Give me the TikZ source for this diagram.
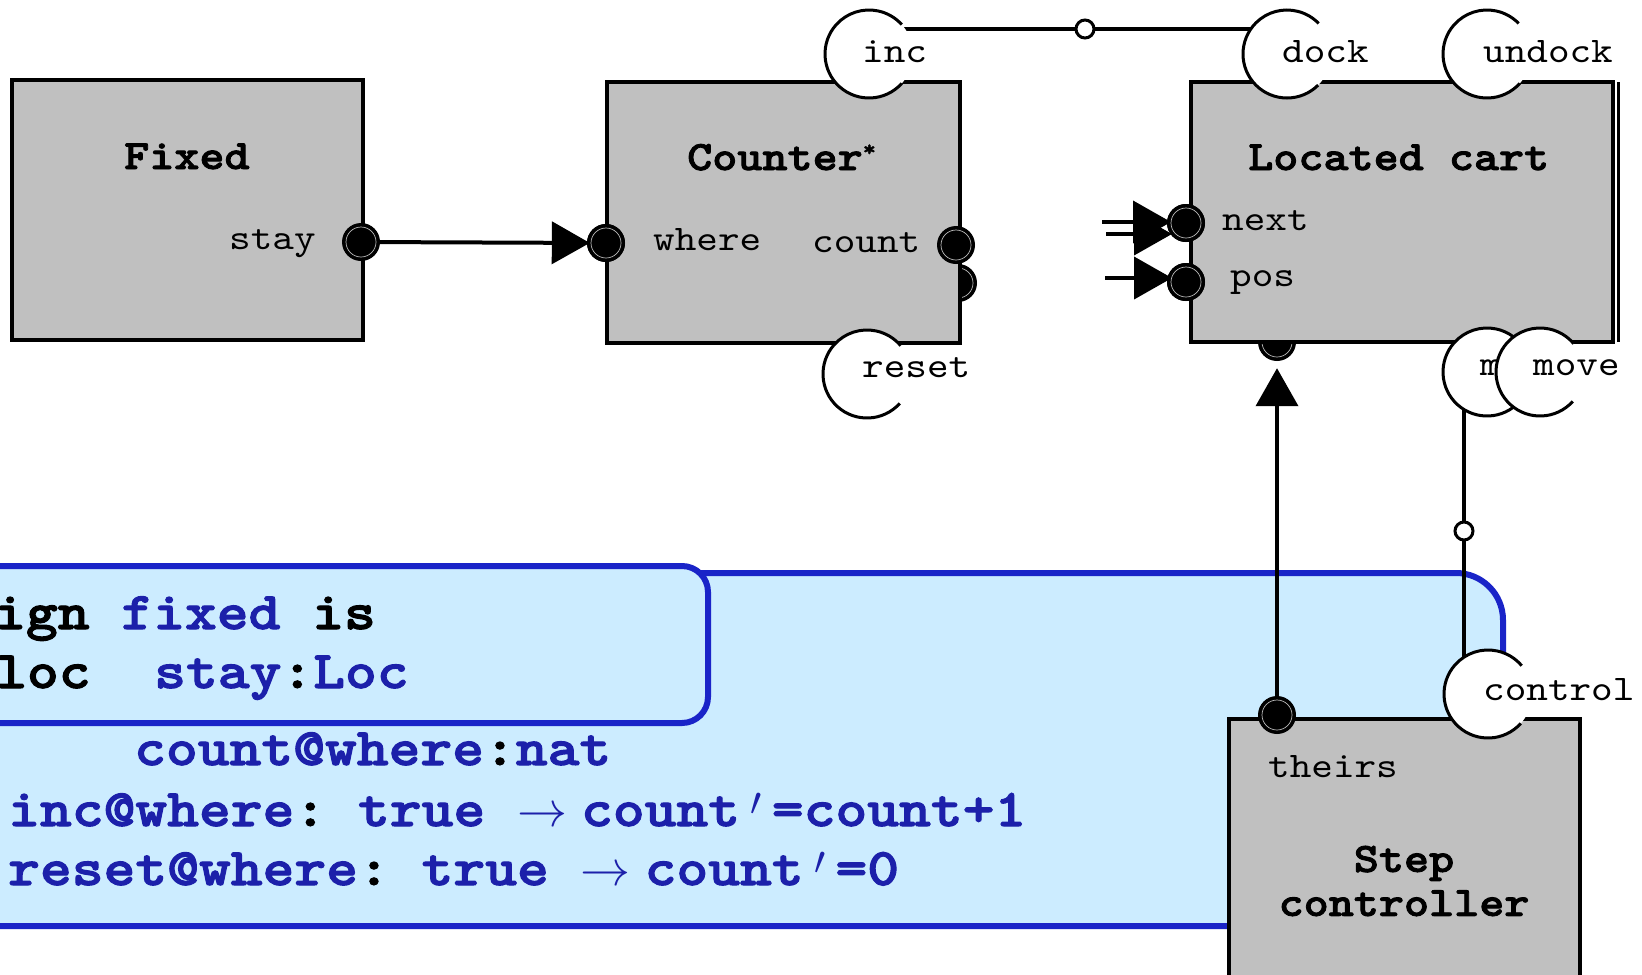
\documentclass[tikz,border=0pt]{standalone}
\usepackage{fontspec}
\usepackage{graphicx}
\newfontfamily\cour{lmmono10-regular}[Extension=.otf, BoldFont=lmmonolt10-bold, BoldFeatures={FakeBold=2}, FakeStretch=1.143, Ligatures=NoCommon]
\usetikzlibrary{arrows.meta}
\definecolor{boxgray}{RGB}{192,192,192}
\definecolor{bfill}{RGB}{204,236,255}
\definecolor{bline}{RGB}{26,36,200}
\definecolor{btext}{RGB}{28,32,170}
\newcommand{\rarr}{\scalebox{5}{\fontsize{10}{12}\selectfont$\rightarrow$}}
\newcommand{\prm}{\makebox[31.8pt][c]{\raisebox{11pt}{\scalebox{4}{\fontsize{10}{12}\selectfont$\prime$}}}}
\begin{document}
\begin{tikzpicture}[x=1pt,y=-1pt,
  blk/.style={draw=black, line width=4pt, fill=boxgray, rectangle, anchor=north west, inner sep=0pt, outer sep=0pt},
  conn/.style={draw=black, line width=4pt},
  tipA/.style={-{Triangle[length=38pt,width=42pt]}},
  portc/.style={circle, fill=white, minimum size=88pt, inner sep=0pt},
  portarc/.style={draw=black, line width=3pt},
  dot/.style={circle, fill=black, minimum size=38pt, inner sep=0pt,
    path picture={\draw[gray!55, line width=0.7pt] (path picture bounding box.center) circle (15pt);}},
  smallc/.style={circle, draw=black, fill=white, line width=3pt, minimum size=18pt, inner sep=0pt},
  plabel/.style={font=\fontsize{36}{40}\selectfont\cour\frenchspacing, anchor=base west, inner sep=0pt},
  title/.style={font=\fontsize{41.8}{44}\selectfont\cour\bfseries\frenchspacing, anchor=base west, inner sep=0pt},
  code/.style={font=\fontsize{53}{60}\selectfont\cour\bfseries\frenchspacing, anchor=base west, inner sep=0pt}
]
\useasboundingbox (0,0) rectangle (1642,975);

% blue specification panels
\draw[line width=6pt, draw=bline, fill=bfill, rounded corners=47pt] (-60,573) rectangle (1503,926);
\draw[line width=6pt, draw=bline, fill=bfill, rounded corners=26pt] (-60,566) rectangle (708,723);
\node[code] (c1) at (-6,629) {ign {\color{btext}fixed} is};
\node[code] (c2) at (-5,688) {loc\ \ {\color{btext}stay}:{\color{btext}Loc}};
\node[code] (c3) at (134,765) {{\color{btext}count@where}:{\color{btext}nat}};
\node[code] (c4) at (8,826) {{\color{btext}inc@where}: {\color{btext}true \rarr\hspace{14pt}count\prm=count+1}};
\node[code] (c5) at (8,885) {{\color{btext}reset@where}: {\color{btext}true \rarr\hspace{14pt}count\prm=0}};

% dots hidden behind boxes
\node[dot] (count2) at (958,283) {};
\node[dot] (cartb) at (1277,342) {};

% boxes
\node[blk, minimum width=351.5pt, minimum height=260.5pt] (fixed) at (11.5,79.6) {};
\node[blk, minimum width=353pt, minimum height=261pt] (counter) at (607,82) {};
\node[blk, minimum width=422pt, minimum height=260pt] (cart) at (1191,82) {};
\draw[line width=3pt] ([xshift=5.5pt]cart.north east) -- ([xshift=5.5pt]cart.south east);
\node[blk, minimum width=351pt, minimum height=290pt] (step) at (1229,719) {};

% port circle positions
\coordinate (incC) at (869,54);
\coordinate (dockC) at (1287,54);
\coordinate (undockC) at (1487,54);
\coordinate (resetC) at (867,374);
\coordinate (move1C) at (1487,372);
\coordinate (move2C) at (1540,372);
\coordinate (ctrlC) at (1488,694);

% connector lines between ports
\draw[conn] ([yshift=25pt]incC) -- ([yshift=25pt]dockC);
\draw[conn] ([xshift=-23pt]move1C) -- ([xshift=-24pt]ctrlC);

% ports (white discs with open outline)
\node[portc] (inc) at (incC) {};
\draw[portarc] (incC) ++(42:44) arc[start angle=42, end angle=318, radius=44];
\node[plabel] (incL) at (862,62) {inc};
\node[portc] (dock) at (dockC) {};
\draw[portarc] (dockC) ++(45:44) arc[start angle=45, end angle=316, radius=44];
\node[plabel] (dockL) at (1282,62) {dock};
\node[portc] (undock) at (undockC) {};
\draw[portarc] (undockC) ++(42:44) arc[start angle=42, end angle=316, radius=44];
\node[plabel] (undockL) at (1483,62) {undock};
\node[portc] (reset) at (resetC) {};
\draw[portarc] (resetC) ++(42:44) arc[start angle=42, end angle=320, radius=44];
\node[plabel] (resetL) at (862,377) {reset};
\node[portc] (move1) at (move1C) {};
\draw[portarc] (move1C) ++(42:44) arc[start angle=42, end angle=320, radius=44];
\node[plabel] (move1L) at (1480,375) {move};
\node[portc] (move2) at (move2C) {};
\draw[portarc] (move2C) ++(42:44) arc[start angle=42, end angle=320, radius=44];
\node[plabel] (move2L) at (1533,375) {move};
\node[portc] (ctrl) at (ctrlC) {};
\draw[portarc] (ctrlC) ++(42:44) arc[start angle=42, end angle=320, radius=44];
\node[plabel] (ctrlL) at (1483,700) {control};

% small connection circles
\node[smallc] (mid1) at (1085,29) {};
\node[smallc] (mid2) at (1464,531) {};

% dots
\node[dot] (stay) at (361,242) {};
\node[dot] (where) at (606,243) {};
\node[dot] (next) at (1186,223) {};
\node[dot] (pos) at (1186,282) {};
\node[dot] (theirs) at (1277,715) {};

% arrows
\coordinate (n1) at (1102,222);
\coordinate (n2) at (1106,234);
\coordinate (p1) at (1105,278);
\draw[conn, tipA, shorten >=-3pt] (stay) -- (where);
\draw[conn, tipA, shorten >=7pt] (theirs) -- (cartb);
\draw[conn, tipA, shorten >=15pt] (n1) -- (n1 -| next.center);
\draw[conn, tipA, shorten >=14pt] (n2) -- (n2 -| next.center);
\draw[conn, tipA, shorten >=14pt] (p1) -- (p1 -| pos.center);
\node[dot] (nextB) at (next) {};
\node[dot] (posB) at (pos) {};
\node[dot] (whereB) at (where) {};
\node[dot] (count) at (956,245) {};

% labels
\node[plabel] (stayL) at (229,249) {stay};
\node[plabel] (whereL) at (653,250) {where};
\node[plabel] (countL) at (812,252) {count};
\node[plabel] (nextL) at (1222,230) {next};
\node[plabel] (posL) at (1230,286) {pos};
\node[plabel] (theirsL) at (1268,777) {theirs};

\node[title] (fixedT) at (124,169) {Fixed};
\node[title] (counterT) at (687,170) {Counter\raisebox{14pt}{\fontsize{22}{22}\selectfont *}};
\node[title] (cartT) at (1248,170) {Located cart};
\node[font=\fontsize{41.8}{44}\selectfont\cour\bfseries, align=center, inner sep=0pt] (stepT) at (1404,881) {Step\\controller};
\end{tikzpicture}
\end{document}
